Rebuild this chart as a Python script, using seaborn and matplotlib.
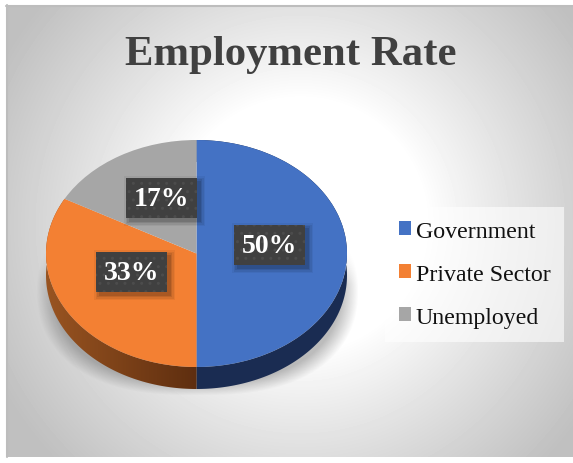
import numpy as np
import matplotlib
matplotlib.use("Agg")
import matplotlib.pyplot as plt
from matplotlib.patches import Rectangle, PathPatch
from matplotlib.path import Path
import seaborn as sns

# Employment shares
categories = ["Government", "Private Sector", "Unemployed"]
shares = [50, 33, 17]
title_text = "Employment Rate"
slice_colors = ["#4472C4", "#F38033", "#A6A6A6"]

W, H = 573, 464
sns.set_theme(style="white")
plt.rcParams["font.family"] = ["Liberation Serif", "DejaVu Serif"]
palette = sns.color_palette(slice_colors)

fig = plt.figure(figsize=(W / 100, H / 100), dpi=100, facecolor="white")


def rect_axes(x0, y0, x1, y1, z):
    """Axes placed by pixel box, with y counted from the top edge."""
    a = fig.add_axes([x0 / W, 1 - y1 / H, (x1 - x0) / W, (y1 - y0) / H], zorder=z)
    a.axis("off")
    return a


# Panel with a radial grey-to-white fill
canvas = rect_axes(0, 0, W, H, 0)
canvas.set_xlim(0, W)
canvas.set_ylim(H, 0)
yy, xx = np.mgrid[0:H, 0:W]
dist = np.hypot((xx - 300) / 300, (yy - 225) / 300)
shade = np.clip((dist - 0.42) / 0.72, 0, 1)
panel = 1.0 - 0.25 * shade ** 0.9
panel_im = canvas.imshow(panel, cmap="gray", vmin=0, vmax=1, extent=(0, W, H, 0),
                         aspect="auto", zorder=0)
panel_im.set_clip_path(Rectangle((6, 6), W - 6, 452, transform=canvas.transData))
canvas.plot([6.5, 6.5], [6, 458], color="#BDBDBD", lw=1.5, zorder=1)
canvas.plot([6, W], [6.5, 6.5], color="#BDBDBD", lw=1.5, zorder=1)
canvas.set_xlim(0, W)
canvas.set_ylim(H, 0)

# Soft ground shadow beneath the disc
sx = np.abs(xx - 197) / 161
sy = (yy - 292) / 104
edge = (sx ** 2.6 + np.abs(sy) ** 2.2) ** (1 / 2.4)
soft = np.clip((1.0 - edge) / 0.12, 0, 1)
top_fade = np.clip((yy - 250) / 35, 0, 1)
rgba = np.zeros((H, W, 4))
rgba[..., :3] = 0.35
rgba[..., 3] = 0.40 * soft * top_fade
canvas.imshow(rgba, extent=(0, W, H, 0), aspect="auto", zorder=2)

# Disc: the box spans the top ellipse plus the side wall
rx, ry, depth = 150.5, 113.5, 22.0
cx, cy = 196.5, 254.5
pie_ax = rect_axes(cx - rx, cy - ry, cx + rx, cy + ry + depth, 3)
wedges, _ = pie_ax.pie(shares, colors=palette, startangle=90, counterclock=False,
                       radius=1, wedgeprops={"linewidth": 0, "zorder": 5})
drop = depth / ry
pie_ax.set_aspect("auto")


def wall_path(start_deg, end_deg):
    """Outline of the side wall between two clockwise angles from 12 o'clock."""
    t = np.radians(np.linspace(start_deg, end_deg, 160))
    top = np.column_stack([np.sin(t), np.cos(t)])
    low = top[::-1] - [0, drop]
    return Path(np.vstack([top, low, top[:1]]), closed=True)


angles = np.cumsum([0] + shares) / sum(shares) * 360

blue_wall = PathPatch(wall_path(angles[0], angles[1]), fc="#1A2C52", ec="none", zorder=1)
pie_ax.add_patch(blue_wall)

orange_wall = PathPatch(wall_path(angles[1], angles[2]), fc="none", ec="none", zorder=1)
pie_ax.add_patch(orange_wall)
ramp = np.linspace(0, 1, 300)[None, :]
wall_im = pie_ax.imshow(
    np.dstack([0.60 - 0.23 * ramp, 0.33 - 0.15 * ramp, 0.13 - 0.07 * ramp]),
    extent=(-1, 0, -1 - drop, 1), aspect="auto", zorder=1)
wall_im.set_clip_path(orange_wall)
pie_ax.set_xlim(-1, 1)
pie_ax.set_ylim(-1 - drop, 1)

# Overlay for the title, data labels and legend
top = rect_axes(0, 0, W, H, 4)
top.set_xlim(0, W)
top.set_ylim(H, 0)

top.text(291, 55, title_text, ha="center", va="center", fontsize=30.8,
         fontweight="bold", color="#404040")

label_boxes = [(234, 226), (96, 253), (126, 179)]
for (bx, by), value in zip(label_boxes, shares):
    bw, bh = 71, 40
    for grow, alpha in zip((5, 3.5, 2, 0.5), (0.05, 0.07, 0.09, 0.12)):
        top.add_patch(Rectangle((bx + 3 - grow, by + 3 - grow), bw + 2 * grow, bh + 2 * grow,
                                fc="black", ec="none", alpha=alpha, zorder=2))
    top.add_patch(Rectangle((bx, by), bw, bh, fc="#404040", ec="none", zorder=3))
    top.add_patch(Rectangle((bx, by), bw, bh, fc="none", ec="#4C4C4C", lw=0,
                            hatch="..", zorder=3))
    top.text(bx + bw / 2, by + bh / 2 + 0.5, f"{value}%", ha="center", va="center",
             fontsize=20, fontweight="bold", color="white", zorder=4)

legend = top.legend(
    wedges, categories, loc="upper left", bbox_to_anchor=(385 / W, 1 - 208 / H),
    bbox_transform=fig.transFigure, fontsize=17.2, frameon=True, fancybox=False,
    facecolor="white", edgecolor="none", framealpha=0.6, labelcolor="#111111",
    handlelength=0.52, handleheight=0.52, handletextpad=0.18, borderaxespad=0,
    borderpad=0.58, labelspacing=0.92,
)
plt.setp(legend.get_patches(), linewidth=0)

fig.savefig("out.png", dpi=100, facecolor="white")
